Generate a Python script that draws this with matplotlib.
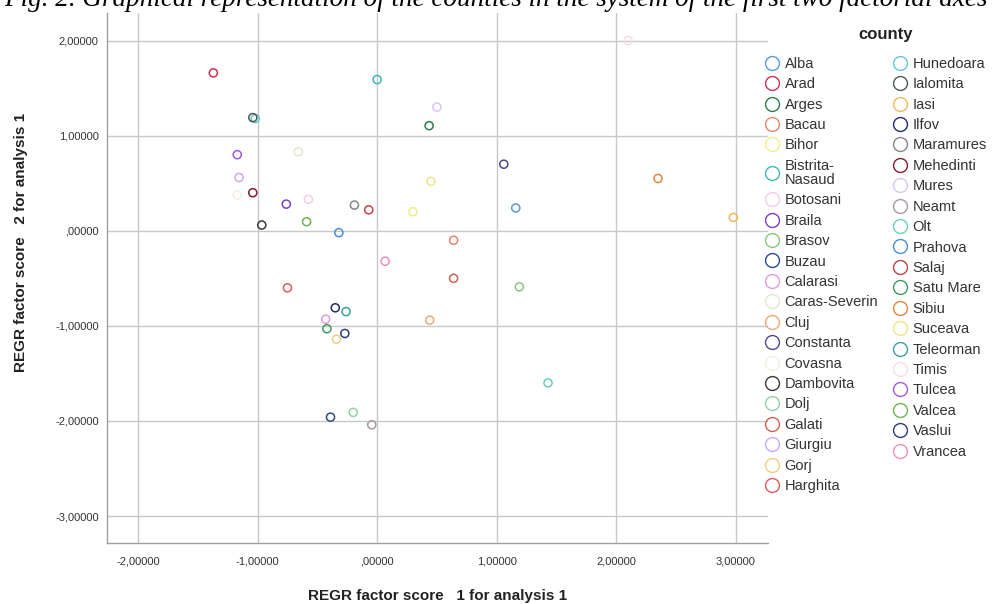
import matplotlib
matplotlib.use("Agg")
import matplotlib.pyplot as plt
from matplotlib.lines import Line2D
from matplotlib.ticker import FuncFormatter

plt.rcParams['font.family'] = ['Liberation Sans', 'DejaVu Sans']

# legend order (alphabetical, as in the SPSS output)
counties = ["Alba", "Arad", "Arges", "Bacau", "Bihor", "Bistrita-Nasaud", "Botosani",
            "Braila", "Brasov", "Buzau", "Calarasi", "Caras-Severin", "Cluj", "Constanta",
            "Covasna", "Dambovita", "Dolj", "Galati", "Giurgiu", "Gorj", "Harghita",
            "Hunedoara", "Ialomita", "Iasi", "Ilfov", "Maramures", "Mehedinti", "Mures",
            "Neamt", "Olt", "Prahova", "Salaj", "Satu Mare", "Sibiu", "Suceava",
            "Teleorman", "Timis", "Tulcea", "Valcea", "Vaslui", "Vrancea"]

colors = ["#5b9bd5", "#d0304f", "#2e7d4f", "#e8866e", "#f3ec8a", "#3fb6b6", "#f2cde6",
          "#7d3fc8", "#86c97a", "#2c4a8c", "#e49be0", "#dfe9cf", "#f0aa72", "#55468c",
          "#f3efe6", "#3a3a3a", "#8fd4a4", "#d0604e", "#cfa9ef", "#f1cf7c", "#e05a5a",
          "#62c6d8", "#4f5a4f", "#efb95a", "#1f2d6e", "#858585", "#8a1c2e", "#d9c6f0",
          "#a89aa0", "#6ecfb8", "#4a8fd2", "#c2424f", "#3d9a5e", "#e8843e", "#eee488",
          "#3a9fa0", "#f6dfe8", "#a257df", "#6db556", "#2b3b80", "#ef8fbf"]

# factor scores (score 1, score 2)
score1 = [1.16, -1.37, 0.435, 0.64, 0.30, 0.00, -0.575,
          -0.76, 1.19, -0.39, -0.43, -0.66, 0.44, 1.06,
          -1.17, -0.965, -0.20, 0.64, -1.155, -0.34, -0.75,
          -1.02, -1.04, 2.98, -0.35, -0.19, -1.04, 0.50,
          -0.045, 1.43, -0.32, -0.07, -0.42, 2.35, 0.45,
          -0.26, 2.10, -1.17, -0.59, -0.27, 0.067]
score2 = [0.24, 1.66, 1.105, -0.10, 0.20, 1.59, 0.33,
          0.28, -0.59, -1.96, -0.93, 0.83, -0.94, 0.70,
          0.375, 0.06, -1.91, -0.50, 0.56, -1.14, -0.60,
          1.18, 1.19, 0.14, -0.81, 0.27, 0.40, 1.30,
          -2.04, -1.60, -0.02, 0.22, -1.03, 0.55, 0.52,
          -0.85, 2.00, 0.80, 0.095, -1.08, -0.32]

x_ticks = [-2, -1, 0, 1, 2, 3]
y_ticks = [-3, -2, -1, 0, 1, 2]


def spss_fmt(v, pos=None):
    s = "%.5f" % v
    s = s.replace(".", ",")
    if s.startswith("0,"):
        s = s[1:]
    return s


fig = plt.figure(figsize=(9.98, 6.04), dpi=100)
ax = fig.add_axes([0.1072, 0.1015, 0.6623, 0.877])

ax.set_xlim(-2.26, 3.27)
ax.set_ylim(-3.28, 2.29)
ax.set_xticks(x_ticks)
ax.set_yticks(y_ticks)
ax.xaxis.set_major_formatter(FuncFormatter(spss_fmt))
ax.yaxis.set_major_formatter(FuncFormatter(spss_fmt))
ax.grid(True, color="#c8c8c8", lw=1.0)
ax.set_axisbelow(True)
for side in ["top", "right"]:
    ax.spines[side].set_visible(False)
for side in ["left", "bottom"]:
    ax.spines[side].set_color("#a0a0a0")
    ax.spines[side].set_linewidth(1.0)
ax.tick_params(length=0, labelsize=8, colors="#333333")
ax.tick_params(axis="x", pad=10)
ax.tick_params(axis="y", pad=6)

for xv, yv, c in zip(score1, score2, colors):
    ax.scatter(xv, yv, s=34, facecolors="none", edgecolors=c, linewidths=1.1, zorder=3)

ax.set_xlabel("REGR factor score   1 for analysis 1", fontsize=11, fontweight="bold",
              color="#222222")
ax.set_ylabel("REGR factor score   2 for analysis 1", fontsize=11, fontweight="bold",
              color="#222222")
ax.xaxis.set_label_coords(0.5, -0.088)
ax.yaxis.set_label_coords(-0.12, 0.567)

handles = []
for name, c in zip(counties, colors):
    lab = "Bistrita-\nNasaud" if name == "Bistrita-Nasaud" else name
    handles.append(Line2D([], [], ls="none", marker="o", ms=10, mfc="none",
                          mec=c, mew=1.0, label=lab))
leg = fig.legend(handles=handles, ncol=2, loc="upper left",
                 bbox_to_anchor=(0.760, 1 - 51 / 604), frameon=False,
                 fontsize=10.5, handlelength=1.0, handletextpad=0.4,
                 columnspacing=0.95, labelspacing=0.44, borderaxespad=0)
for t in leg.get_texts():
    t.set_color("#333333")
    if "\n" in t.get_text():
        t.set_linespacing(1.0)
fig.text(886 / 998, 1 - 35 / 604, "county", ha="center", va="center",
         fontsize=12, fontweight="bold", color="#222222")

# caption of the paper, cut off at the top edge of the image
fig.text(0.497, 1 - 6 / 604, "Fig. 2. Graphical representation of the counties in the "
         "system of the first two factorial axes", ha="center", va="baseline",
         family=["Liberation Serif", "DejaVu Serif"], style="italic", fontsize=19.5)

fig.savefig("out.png", dpi=100)
